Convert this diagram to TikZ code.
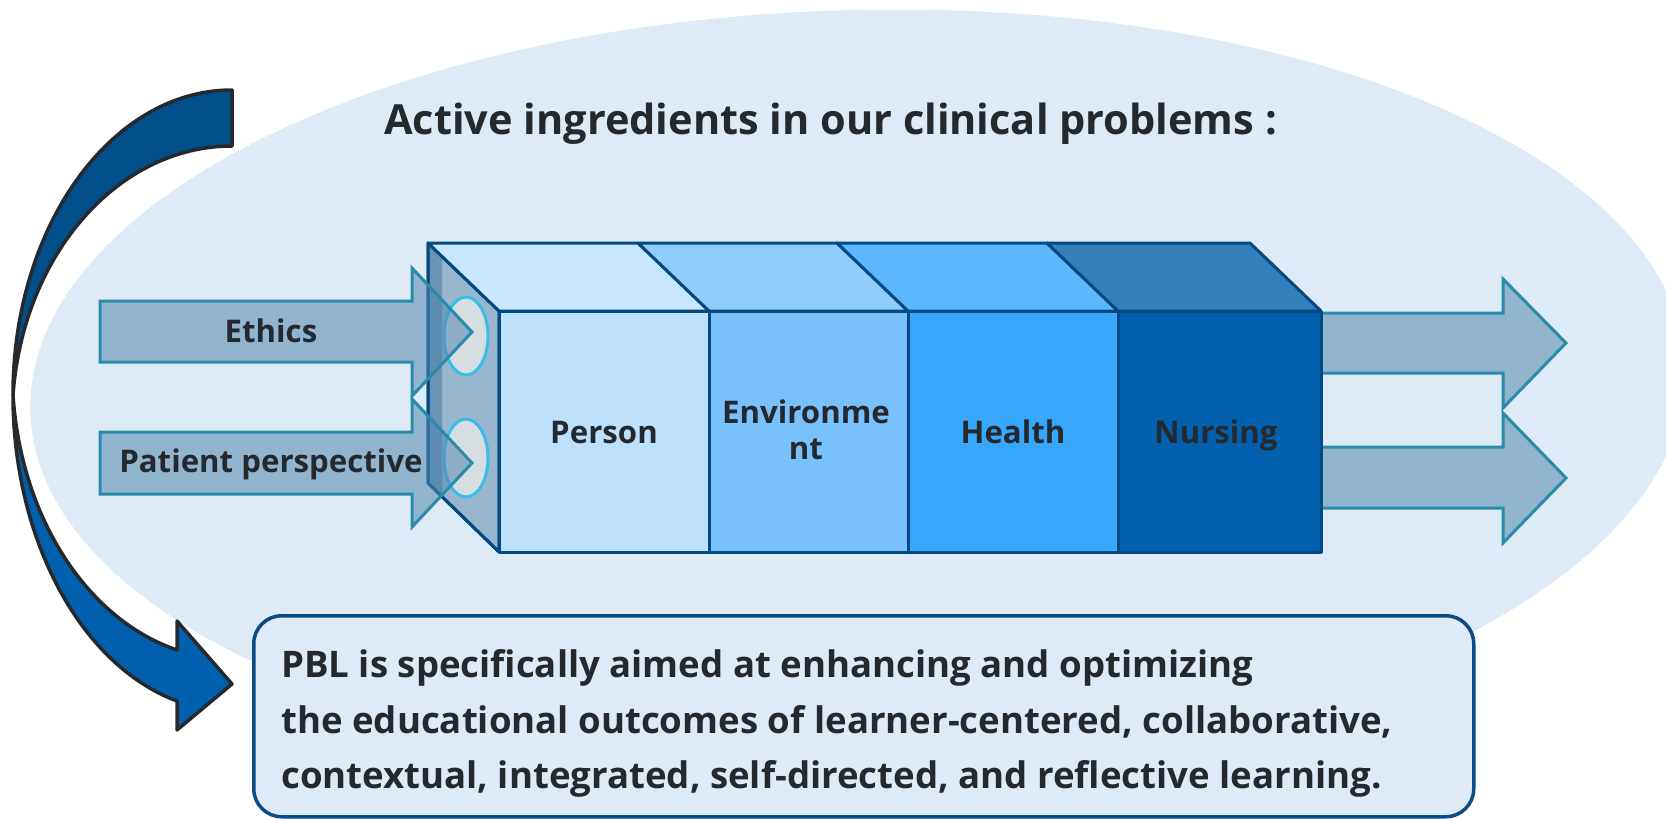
\documentclass[tikz,border=0pt]{standalone}
\usepackage{fontspec}
\setmainfont{Open Sans}
\definecolor{bgblue}{HTML}{DEEBF7}
\definecolor{txtc}{HTML}{25292E}
\definecolor{curvedark}{HTML}{004F8B}
\definecolor{curveblue}{HTML}{0060AE}
\definecolor{curveline}{HTML}{25292E}
\definecolor{cubeline}{HTML}{034A82}
\definecolor{sideface}{HTML}{99B6CF}
\definecolor{sidestrip}{HTML}{6A93B4}
\definecolor{ptop}{HTML}{C8E6FD}
\definecolor{pfront}{HTML}{BDE1FC}
\definecolor{etop}{HTML}{92CEFD}
\definecolor{efront}{HTML}{78C1FC}
\definecolor{htop}{HTML}{5DB7FE}
\definecolor{hfront}{HTML}{37A7FE}
\definecolor{ntop}{HTML}{3480BD}
\definecolor{nfront}{HTML}{0060AE}
\definecolor{portfill}{HTML}{D6DEE2}
\definecolor{portline}{HTML}{3BBDE9}
\definecolor{arrline}{HTML}{2A8BAA}
\definecolor{arrfill}{HTML}{91B4CF}
\definecolor{arrfilltr}{HTML}{5287AF}
\definecolor{boxline}{HTML}{0A4C85}
\begin{document}
\begin{tikzpicture}[x=1pt,y=-1pt,
  curvepart/.style={draw=curveline, line width=3.5pt, line join=round},
  cubeface/.style={draw=cubeline, line width=3pt, line join=round},
  port/.style={fill=portfill, draw=portline, line width=3pt},
  inarrow/.style={fill=arrfilltr, fill opacity=0.55, draw=arrline, line width=3pt, line join=miter},
  outarrow/.style={fill=arrfill, draw=arrline, line width=3pt, line join=miter},
  titletxt/.style={text=txtc, inner sep=0pt, font=\bfseries\fontsize{41.5}{48}\selectfont},
  lbl/.style={text=txtc, inner sep=0pt, font=\bfseries\fontsize{31.2}{37}\selectfont},
  boxtxt/.style={text=txtc, inner sep=0pt, font=\bfseries\fontsize{36.6}{44}\selectfont},
  ]
\useasboundingbox (0,0) rectangle (1666,819);
% background ellipse
\fill[bgblue, rotate around={1.5:(858,390)}] (858,390) ellipse [x radius=828, y radius=380];
% curved arrow
\path[curvepart, fill=curvedark] (232,90) .. controls (111.1,90) and (13,226.6) .. (13,395)
   .. controls (23.3,253.9) and (118.3,146) .. (232,146) -- cycle;
\path[curvepart, fill=curveblue] (13,395) .. controls (13,539) and (80.5,665) .. (177,701)
   -- (177,730) -- (232,684) -- (177,621) -- (177,650)
   .. controls (86.7,619.3) and (20.9,517.2) .. (13,395) -- cycle;
% text box
\node[draw=boxline, line width=3.5pt, fill=bgblue, rounded corners=28pt,
      minimum width=1220pt, minimum height=201pt, inner sep=0pt, anchor=north west]
      (box) at (252,614) {};
% right arrows
\path[outarrow] (1321,313) -- (1503,313) -- (1503,279) -- (1566,343) -- (1503,408) -- (1503,373) -- (1321,373) -- cycle;
\path[outarrow] (1321,447) -- (1503,447) -- (1503,413) -- (1566,478) -- (1503,543) -- (1503,508) -- (1321,508) -- cycle;
% cube
\path[cubeface, fill=sideface] (428,243) -- (499,311) -- (499,552) -- (428,483) -- cycle;
\fill[sidestrip] (430,246) -- (442,257) -- (442,494) -- (430,482) -- cycle;
\path[cubeface] (428,243) -- (499,311) -- (499,552) -- (428,483) -- cycle;
\path[cubeface, fill=ptop] (428,243) -- (638,243) -- (709,311) -- (499,311) -- cycle;
\path[cubeface, fill=etop] (638,243) -- (837,243) -- (908,311) -- (709,311) -- cycle;
\path[cubeface, fill=htop] (837,243) -- (1047,243) -- (1118,311) -- (908,311) -- cycle;
\path[cubeface, fill=ntop] (1047,243) -- (1250,243) -- (1321,311) -- (1118,311) -- cycle;
\path[cubeface, fill=pfront] (499,311) rectangle (709,552);
\path[cubeface, fill=efront] (709,311) rectangle (908,552);
\path[cubeface, fill=hfront] (908,311) rectangle (1118,552);
\path[cubeface, fill=nfront] (1118,311) rectangle (1321,552);
% ports on side face
\path[port] (466,336) ellipse [x radius=22, y radius=39];
\path[port] (466,458) ellipse [x radius=22, y radius=39];
% input arrows
\path[inarrow] (100,301) -- (412,301) -- (412,268) -- (472,332) -- (412,396) -- (412,362) -- (100,362) -- cycle;
\path[inarrow] (100,432) -- (412,432) -- (412,399) -- (472,463) -- (412,527) -- (412,494) -- (100,494) -- cycle;
% texts
\node[titletxt, anchor=base west] (title) at (384,134) {Active ingredients in our clinical problems :};
\node[lbl, anchor=base] (ethics) at (271,342) {Ethics};
\node[lbl, anchor=base] (patient) at (271,472) {Patient perspective};
\node[lbl, anchor=base] (person) at (604,443) {Person};
\node[lbl, anchor=base] (env1) at (806,423) {Environme};
\node[lbl, anchor=base] (env2) at (806,459) {nt};
\node[lbl, anchor=base] (health) at (1013,443) {Health};
\node[lbl, anchor=base] (nursing) at (1216,443) {Nursing};
\node[boxtxt, anchor=base west] (l1) at (281,677) {PBL is specifically aimed at enhancing and optimizing};
\node[boxtxt, anchor=base west] (l2) at (281,733) {the educational outcomes of learner-centered, collaborative,};
\node[boxtxt, anchor=base west] (l3) at (281,788) {contextual, integrated, self-directed, and reflective learning.};
\end{tikzpicture}
\end{document}
